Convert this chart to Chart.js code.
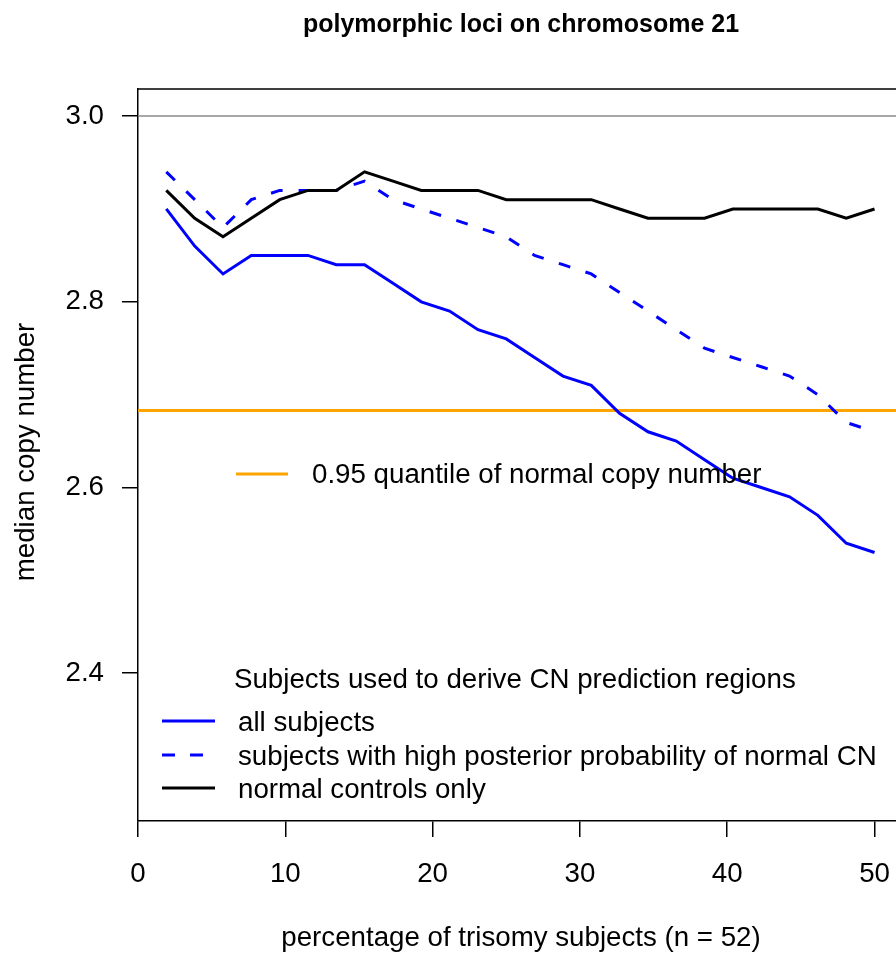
<!DOCTYPE html>
<html>
<head>
<meta charset="utf-8">
<script src="https://cdn.jsdelivr.net/npm/chart.js@4.4.0/dist/chart.umd.min.js"></script>
<style>
  html, body { margin: 0; padding: 0; overflow: hidden; background: #fff; }
  #wrap { width: 896px; height: 954px; overflow: hidden; }
</style>
</head>
<body>
<div id="wrap"><canvas id="chart" width="912" height="954"></canvas></div>
<script>
'use strict';
// percentage of trisomy subjects (k of 52)
const pctTrisomy = [1.92, 3.85, 5.77, 7.69, 9.62, 11.54, 13.46, 15.38, 17.31, 19.23, 21.15, 23.08, 25.00,
  26.92, 28.85, 30.77, 32.69, 34.62, 36.54, 38.46, 40.38, 42.31, 44.23, 46.15, 48.08, 50.00];

// median copy number per reference set
const allSubjects = [2.90, 2.86, 2.83, 2.85, 2.85, 2.85, 2.84, 2.84, 2.82, 2.80, 2.79, 2.77, 2.76,
  2.74, 2.72, 2.71, 2.68, 2.66, 2.65, 2.63, 2.61, 2.60, 2.59, 2.57, 2.54, 2.53];
const highPosterior = [2.94, 2.91, 2.88, 2.91, 2.92, 2.92, 2.92, 2.93, 2.91, 2.90, 2.89, 2.88, 2.87,
  2.85, 2.84, 2.83, 2.81, 2.79, 2.77, 2.75, 2.74, 2.73, 2.72, 2.70, 2.67, 2.66];
const normalControls = [2.92, 2.89, 2.87, 2.89, 2.91, 2.92, 2.92, 2.94, 2.93, 2.92, 2.92, 2.92, 2.91,
  2.91, 2.91, 2.91, 2.90, 2.89, 2.89, 2.89, 2.90, 2.90, 2.90, 2.90, 2.89, 2.90];

const quantile95 = 2.683;
const refLine = 3.0;

const xTicks = [0, 10, 20, 30, 40, 50];
const yTicks = [2.4, 2.6, 2.8, 3.0];
const xRange = [0, 52];
const yRange = [2.2408, 3.0292];

const FONT = '"Liberation Sans", Arial, Helvetica, sans-serif';
const TXT = 27.7;

function toPoints(xs, ys) {
  return xs.map((x, i) => ({ x: x, y: ys[i] }));
}

// titles, legends and top border, R style
const extras = {
  id: 'extras',
  afterDraw(chart) {
    const ctx = chart.ctx;
    const a = chart.chartArea;
    ctx.save();
    // box top + right
    ctx.strokeStyle = '#000';
    ctx.lineWidth = 1.5;
    ctx.beginPath();
    ctx.moveTo(a.left, a.top);
    ctx.lineTo(a.right, a.top);
    ctx.lineTo(a.right, a.bottom);
    ctx.stroke();

    ctx.fillStyle = '#000';
    ctx.font = 'bold 25px ' + FONT;
    ctx.textAlign = 'center';
    ctx.textBaseline = 'alphabetic';
    ctx.fillText('polymorphic loci on chromosome 21', 521, 32);

    ctx.font = TXT + 'px ' + FONT;
    ctx.fillText('percentage of trisomy subjects (n = 52)', 521, 946);

    ctx.save();
    ctx.translate(34, 452);
    ctx.rotate(-Math.PI / 2);
    ctx.fillText('median copy number', 0, 0);
    ctx.restore();

    // quantile legend
    ctx.textAlign = 'left';
    ctx.lineWidth = 3;
    ctx.strokeStyle = '#FFA500';
    ctx.beginPath();
    ctx.moveTo(236, 474);
    ctx.lineTo(288, 474);
    ctx.stroke();
    ctx.fillText('0.95 quantile of normal copy number', 312, 483);

    // subjects legend
    ctx.fillText('Subjects used to derive CN prediction regions', 234, 688);
    const items = [
      { label: 'all subjects', color: '#0000FF', dash: [], y: 721 },
      { label: 'subjects with high posterior probability of normal CN', color: '#0000FF', dash: [13, 15], y: 755 },
      { label: 'normal controls only', color: '#000000', dash: [], y: 788 }
    ];
    items.forEach(function (it) {
      ctx.strokeStyle = it.color;
      ctx.setLineDash(it.dash);
      ctx.beginPath();
      ctx.moveTo(162, it.y);
      ctx.lineTo(215, it.y);
      ctx.stroke();
      ctx.setLineDash([]);
      ctx.fillText(it.label, 238, it.y + 9.5);
    });
    ctx.restore();
  }
};

const ctx = document.getElementById('chart').getContext('2d');
new Chart(ctx, {
  type: 'line',
  data: {
    datasets: [
      {
        label: 'all subjects',
        data: toPoints(pctTrisomy, allSubjects),
        borderColor: '#0000FF',
        borderWidth: 3,
        order: 3
      },
      {
        label: 'subjects with high posterior probability of normal CN',
        data: toPoints(pctTrisomy, highPosterior),
        borderColor: '#0000FF',
        borderWidth: 3,
        borderDash: [12, 16],
        order: 2
      },
      {
        label: 'normal controls only',
        data: toPoints(pctTrisomy, normalControls),
        borderColor: '#000000',
        borderWidth: 3,
        order: 1
      },
      {
        label: '0.95 quantile',
        data: toPoints(xRange, [quantile95, quantile95]),
        borderColor: '#FFA500',
        borderWidth: 3,
        order: 5
      },
      {
        label: 'reference',
        data: toPoints(xRange, [refLine, refLine]),
        borderColor: '#8a8a8a',
        borderWidth: 1.5,
        order: 6
      }
    ]
  },
  options: {
    responsive: false,
    animation: false,
    layout: { padding: { top: 89, right: 8, left: 0, bottom: 0 } },
    elements: {
      point: { radius: 0 },
      line: { tension: 0, fill: false, borderCapStyle: 'butt' }
    },
    plugins: {
      legend: { display: false },
      tooltip: { enabled: false },
      title: { display: false }
    },
    scales: {
      x: {
        type: 'linear',
        min: xRange[0],
        max: xRange[1],
        afterBuildTicks(scale) {
          scale.ticks = xTicks.map(v => ({ value: v }));
        },
        afterFit(scale) {
          scale.height = 133;
        },
        grid: { drawOnChartArea: false, drawTicks: true, tickLength: 16, color: '#000', lineWidth: 1.5 },
        border: { display: true, color: '#000', width: 1.5 },
        ticks: {
          color: '#000',
          padding: 21,
          maxRotation: 0,
          font: { family: FONT, size: TXT },
          callback: v => String(v)
        }
      },
      y: {
        type: 'linear',
        min: yRange[0],
        max: yRange[1],
        afterBuildTicks(scale) {
          scale.ticks = yTicks.map(v => ({ value: v }));
        },
        afterFit(scale) {
          scale.width = 138;
        },
        grid: { drawOnChartArea: false, drawTicks: true, tickLength: 16, color: '#000', lineWidth: 1.5 },
        border: { display: true, color: '#000', width: 1.5 },
        ticks: {
          color: '#000',
          padding: 18,
          font: { family: FONT, size: TXT },
          callback: v => Number(v).toFixed(1)
        }
      }
    }
  },
  plugins: [extras]
});
</script>
</body>
</html>
